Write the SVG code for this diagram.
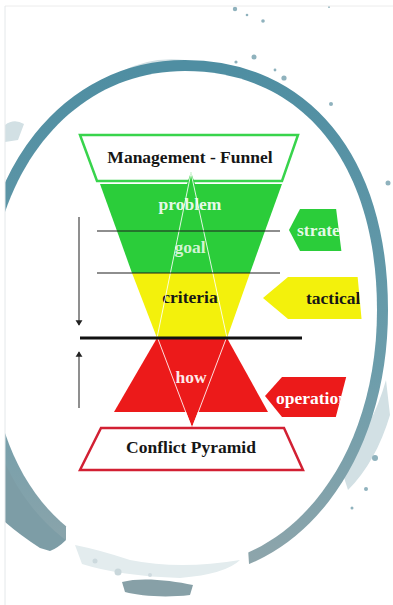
<svg xmlns="http://www.w3.org/2000/svg" width="393" height="605" viewBox="0 0 393 605">
  <style>
    .lbl { font-family: "Liberation Serif", "Times New Roman", serif; font-weight: bold; text-anchor: middle; font-size: 17.5px; }
    .thin { stroke: #1e1e1e; stroke-width: 1.2; fill: none; }
    .rule { stroke: #111; stroke-width: 3; }
    .axis { stroke: #333; stroke-width: 1.1; fill: none; }
    .seam { stroke: #ffffff; stroke-width: 1; stroke-opacity: 0.85; fill: none; }
    .splat { fill: #8fb2bd; }
    .splat-lt { fill: #d2e0e4; }
  </style>
  <defs>
    <clipPath id="frame"><rect x="5" y="6" width="388" height="599"/></clipPath>
    <clipPath id="cut-strat"><polygon points="280,200 335,200 342,256 280,256"/></clipPath>
    <clipPath id="cut-tact"><polygon points="255,270 357,270 362,324 255,324"/></clipPath>
    <clipPath id="cut-oper"><polygon points="255,370 348,370 334,424 255,424"/></clipPath>
    <marker id="tip" viewBox="0 0 8 10" refX="7" refY="5" markerWidth="5" markerHeight="7" orient="auto">
      <path d="M0,0 L8,5 L0,10 Z" fill="#222"/>
    </marker>
    <linearGradient id="ringTone" x1="0" y1="0" x2="0" y2="1">
      <stop offset="0" stop-color="#4f8ea2"/>
      <stop offset="0.6" stop-color="#6c9dab"/>
      <stop offset="1" stop-color="#8ea5ab"/>
    </linearGradient>
  </defs>

  <rect width="393" height="605" fill="#ffffff"/>

  <!-- painted ring backdrop -->
  <g id="backdrop" clip-path="url(#frame)">
    <!-- splashes round the ring -->
    <path class="splat-lt" d="M120,72 Q150,56 185,60 L200,66 Q160,64 120,80 Z"/>
    <path class="splat-lt" d="M5,125 Q14,118 24,124 L18,140 L5,142 Z"/>
    <path class="splat-lt" d="M340,465 Q372,430 386,380 L390,415 Q376,462 348,490 Z"/>
    <path d="M5,420 L30,440 Q48,470 52,505 Q62,528 66,540 Q58,548 50,551 L40,548 Q20,535 5,522 Z" fill="#7d9da6"/>
    <circle class="splat" cx="235" cy="9" r="2.2"/>
    <circle class="splat" cx="247" cy="15" r="1.3"/>
    <circle class="splat" cx="263" cy="21" r="1.8"/>
    <circle class="splat" cx="329" cy="7" r="1"/>
    <circle class="splat" cx="254" cy="57" r="2.5"/>
    <circle class="splat" cx="236" cy="62" r="1.6"/>
    <circle class="splat" cx="284" cy="78" r="2.6"/>
    <circle class="splat" cx="275" cy="70" r="1.4"/>
    <circle class="splat" cx="331" cy="104" r="2"/>
    <circle class="splat" cx="318" cy="124" r="2.6"/>
    <circle class="splat" cx="388" cy="183" r="2.5"/>
    <circle class="splat" cx="376" cy="230" r="1.5"/>
    <circle class="splat" cx="375" cy="458" r="3"/>
    <circle class="splat" cx="366" cy="489" r="2"/>
    <circle class="splat" cx="352" cy="508" r="1.5"/>
    <!-- ring and white disc -->
    <path d="M185,71 C300,71 377,160 377,310 C377,460 290,566 185,566 C60,566 -12,470 -12,318 C-12,175 70,71 185,71 Z"
          fill="none" stroke="url(#ringTone)" stroke-width="22"/>
    <path d="M185,71 C300,71 377,160 377,310 C377,460 290,566 185,566 C60,566 -12,470 -12,318 C-12,175 70,71 185,71 Z"
          fill="#ffffff"/>
    <!-- the paint thins out along the bottom: no solid band there -->
    <path d="M66,526 Q150,572 248,548 L250,580 L66,580 Z" fill="#ffffff"/>
    <path d="M75,545 Q100,550 130,560 Q180,570 240,560 Q226,574 180,578 Q120,576 82,564 Z" fill="#e3ecee"/>
    <circle cx="118" cy="572" r="3.5" fill="#c9d7db"/>
    <circle cx="95" cy="561" r="2.5" fill="#ccd9dd"/>
    <circle cx="150" cy="575" r="2" fill="#cfdbdf"/>
  </g>
  <!-- drip below the ring -->
  <path d="M122,582 C140,577 170,580 193,585 L190,595 C165,598 140,596 125,592 Z" fill="#87a0a7"/>
  <line x1="5" y1="6" x2="393" y2="6" stroke="#ececec" stroke-width="1"/>
  <line x1="5" y1="6" x2="5" y2="605" stroke="#e4e8ea" stroke-width="1"/>

  <!-- header box of the funnel -->
  <g id="management-funnel">
    <polygon points="80,135 298,135 282,181 97,181" fill="#ffffff" stroke="#38d44c" stroke-width="2.5"/>
    <text class="lbl" x="190" y="163" fill="#161616">Management - Funnel</text>
  </g>

  <!-- green and yellow funnel layers -->
  <g id="problem">
    <polygon points="100,184 282,184 265,231 117,231" fill="#2bcd3a"/>
    <polygon points="191,172 187,184 195,184" fill="#2bcd3a"/>
    <text class="lbl" x="190" y="210" fill="#ffffff" fill-opacity="0.9">problem</text>
  </g>
  <g id="goal">
    <polygon points="117,231 265,231 250,273 132,273" fill="#2bcd3a"/>
    <text class="lbl" x="190" y="253" fill="#ffffff" fill-opacity="0.8">goal</text>
  </g>
  <g id="criteria">
    <polygon points="132,273 250,273 227,338 157,338" fill="#f3f10c"/>
    <text class="lbl" x="190" y="303" fill="#161616">criteria</text>
  </g>

  <!-- red pyramid layer -->
  <g id="how">
    <polygon points="157,338 227,338 268,412 114,412" fill="#ec1a1a"/>
    <polygon points="157,338 227,338 192,427" fill="#ec1a1a"/>
    <text class="lbl" x="191" y="383" fill="#ffffff" fill-opacity="0.92">how</text>
  </g>

  <g id="conflict-pyramid">
    <polygon points="101,428 284,428 303,470 80,470" fill="#ffffff" stroke="#d22033" stroke-width="2.5"/>
    <text class="lbl" x="191" y="453" fill="#161616">Conflict Pyramid</text>
  </g>

  <!-- level tags on the right -->
  <g id="strategic" clip-path="url(#cut-strat)">
    <polygon points="289,230 300,209 345,209 345,251 300,251" fill="#2bcd3a"/>
    <text class="lbl" x="297" y="236" fill="#ffffff" fill-opacity="0.9" style="text-anchor:start">strategic</text>
  </g>
  <g id="tactical" clip-path="url(#cut-tact)">
    <polygon points="263,298 288,277 365,277 365,319 288,319" fill="#f3f10c"/>
    <text class="lbl" x="306" y="304" fill="#161616" style="text-anchor:start">tactical</text>
  </g>
  <g id="operational" clip-path="url(#cut-oper)">
    <polygon points="265,396 282,377 350,377 350,417 282,417" fill="#ec1a1a"/>
    <text class="lbl" x="276" y="404" fill="#ffffff" style="text-anchor:start">operational</text>
  </g>

  <!-- connectors: seams, level rules and direction arrows -->
  <g id="connectors">
    <line class="seam" x1="191" y1="173" x2="157" y2="338"/>
    <line class="seam" x1="191" y1="173" x2="227" y2="338"/>
    <line class="seam" x1="158" y1="339" x2="191" y2="426"/>
    <line class="seam" x1="226" y1="339" x2="193" y2="426"/>
    <line class="thin" x1="97" y1="231" x2="280" y2="231"/>
    <line class="thin" x1="97" y1="273" x2="280" y2="273"/>
    <line class="rule" x1="80" y1="338" x2="302" y2="338"/>
    <line class="axis" x1="79" y1="217" x2="79" y2="325" marker-end="url(#tip)"/>
    <line class="axis" x1="79" y1="408" x2="79" y2="352" marker-end="url(#tip)"/>
  </g>
</svg>
